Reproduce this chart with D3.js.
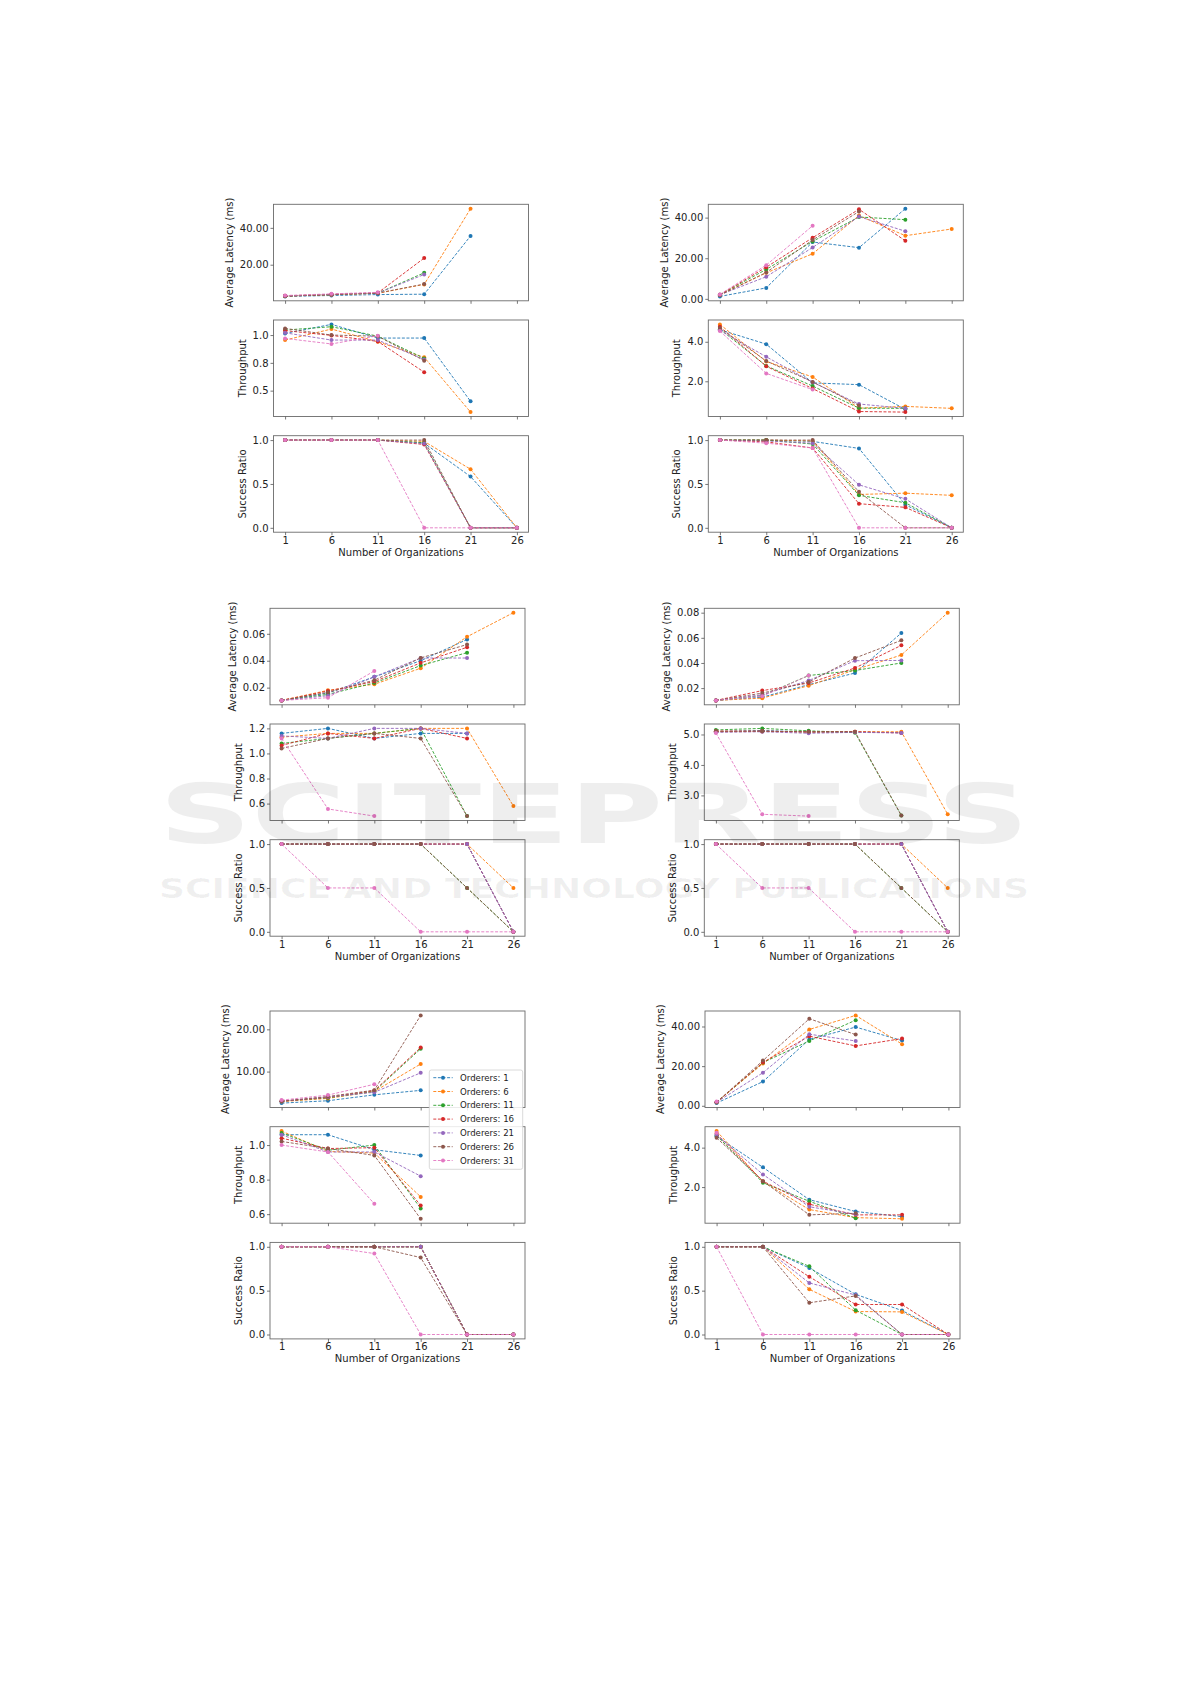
<!DOCTYPE html>
<html><head><meta charset="utf-8">
<script src="https://cdn.jsdelivr.net/npm/d3@7"></script>
<style>body{margin:0;background:#fff} text{font-family:"DejaVu Sans",sans-serif}</style>
</head><body><svg id="c" width="1191" height="1684"></svg>
<script>
// ---------- data ----------
const organizations = [1, 6, 11, 16, 21, 26];
const orderers = [1, 6, 11, 16, 21, 26, 31];
const seriesNames = orderers.map(o => "Orderers: " + o);
const xTickValues = [1, 6, 11, 16, 21, 26];

// Top-left
const tlLatency = [
  [2.8, 3.3, 3.8, 4.0, 35.6, null],
  [3.0, 3.7, 4.5, 9.3, 50.4, null],
  [3.0, 3.8, 4.6, 15.6, null, null],
  [3.1, 3.9, 4.7, 23.6, null, null],
  [3.0, 3.9, 4.6, 14.7, null, null],
  [2.9, 3.8, 4.6, 9.5, null, null],
  [3.3, 4.2, 5.0, null, null, null]];
const tlThroughput = [
  [1.015, 1.096, 0.973, 0.973, 0.404, null],
  [0.955, 1.054, 0.94, 0.80, 0.307, null],
  [1.045, 1.075, 0.99, 0.79, null, null],
  [1.04, 0.997, 0.943, 0.666, null, null],
  [1.02, 0.955, 0.955, 0.78, null, null],
  [1.06, 1.0, 0.99, 0.77, null, null],
  [0.97, 0.92, 0.994, null, null, null]];
const tlSuccess = [
  [1, 1, 1, 0.965, 0.584, 0],
  [1, 1, 1, 0.985, 0.668, 0],
  [1, 1, 1, 0.97, 0, 0],
  [1, 1, 1, 0.95, 0, 0],
  [1, 1, 1, 0.96, 0, 0],
  [1, 1, 1, 1.0, 0, 0],
  [1, 1, 1, 0, 0, 0]];
const tlLatencyTicks = [20, 40];
const tlThroughputTicks = [0.5, 0.75, 1.0];

// Top-right
const trLatency = [
  [1.2, 5.4, 28.0, 25.2, 44.4, null],
  [2.0, 12.8, 22.2, 41.0, 31.1, 34.4],
  [2.0, 14.5, 28.3, 40.3, 39.0, null],
  [2.0, 15.6, 30.1, 44.1, 28.6, null],
  [2.0, 10.9, 25.3, 40.5, 33.3, null],
  [1.8, 13.0, 29.0, 43.0, null, null],
  [2.2, 16.6, 36.0, null, null, null]];
const trThroughput = [
  [4.61, 3.88, 1.92, 1.83, 0.58, null],
  [4.88, 3.0, 2.22, 0.64, 0.73, 0.63],
  [4.64, 2.78, 1.76, 0.64, 0.63, null],
  [4.76, 2.76, 1.63, 0.47, 0.44, null],
  [4.58, 3.24, 1.95, 0.85, 0.63, null],
  [4.7, 3.03, 1.97, 0.78, null, null],
  [4.54, 2.4, 1.58, null, null, null]];
const trSuccess = [
  [1, 1, 0.985, 0.905, 0.263, 0],
  [1, 1, 0.99, 0.38, 0.395, 0.37],
  [1, 1, 0.955, 0.37, 0.286, 0],
  [1, 0.98, 0.91, 0.275, 0.233, 0],
  [1, 0.99, 0.965, 0.49, 0.33, 0],
  [1, 1, 1, 0.41, 0, 0],
  [1, 0.965, 0.91, 0, 0, 0]];
const trLatencyTicks = [0, 20, 40];
const trThroughputTicks = [2, 4];

// Middle-left
const mlLatency = [
  [0.0105, 0.016, 0.028, 0.040, 0.0558, null],
  [0.0105, 0.018, 0.0225, 0.0344, 0.0578, 0.0757],
  [0.0105, 0.015, 0.0235, 0.0364, 0.046, null],
  [0.0105, 0.0175, 0.0245, 0.0384, 0.050, null],
  [0.0105, 0.014, 0.028, 0.042, 0.042, null],
  [0.0105, 0.0165, 0.0255, 0.0421, 0.052, null],
  [0.0105, 0.0125, 0.0324, null, null, null]];
const mlThroughput = [
  [1.16, 1.2, 1.12, 1.16, 1.16, null],
  [1.13, 1.16, 1.16, 1.2, 1.2, 0.58],
  [1.08, 1.12, 1.16, 1.2, 0.5, null],
  [1.064, 1.16, 1.12, 1.2, 1.12, null],
  [1.14, 1.12, 1.2, 1.2, 1.16, null],
  [1.04, 1.12, 1.16, 1.12, 0.5, null],
  [1.12, 0.557, 0.5, null, null, null]];
const mlSuccess = [
  [1, 1, 1, 1, 1, 0],
  [1, 1, 1, 1, 1, 0.5],
  [1, 1, 1, 1, 0.5, 0],
  [1, 1, 1, 1, 1, 0],
  [1, 1, 1, 1, 1, 0],
  [1, 1, 1, 1, 0.5, 0],
  [1, 0.5, 0.5, 0, 0, 0]];
const mlLatencyTicks = [0.02, 0.04, 0.06];
const mlThroughputTicks = [0.6, 0.8, 1.0, 1.2];

// Middle-right
const mrLatency = [
  [0.0102, 0.0128, 0.0227, 0.032, 0.0638, null],
  [0.0102, 0.012, 0.0219, 0.0346, 0.0463, 0.08],
  [0.0102, 0.014, 0.030, 0.034, 0.040, null],
  [0.0102, 0.018, 0.024, 0.036, 0.054, null],
  [0.0102, 0.0147, 0.026, 0.0418, 0.042, null],
  [0.0102, 0.016, 0.0248, 0.0439, 0.058, null],
  [0.0102, 0.0136, 0.030, null, null, null]];
const mrThroughput = [
  [5.09, 5.13, 5.08, 5.08, 5.06, null],
  [5.09, 5.1, 5.08, 5.09, 5.09, 2.38],
  [5.15, 5.2, 5.12, 5.06, 2.34, null],
  [5.11, 5.11, 5.08, 5.09, 5.05, null],
  [5.07, 5.09, 5.04, 5.07, 5.05, null],
  [5.11, 5.11, 5.09, 5.09, 2.34, null],
  [5.05, 2.38, 2.32, null, null, null]];
const mrSuccess = [
  [1, 1, 1, 1, 1, 0],
  [1, 1, 1, 1, 1, 0.5],
  [1, 1, 1, 1, 0.5, 0],
  [1, 1, 1, 1, 1, 0],
  [1, 1, 1, 1, 1, 0],
  [1, 1, 1, 1, 0.5, 0],
  [1, 0.5, 0.5, 0, 0, 0]];
const mrLatencyTicks = [0.02, 0.04, 0.06, 0.08];
const mrThroughputTicks = [3, 4, 5];

// Bottom-left
const blLatency = [
  [2.54, 3.1, 4.5, 5.56, null, null],
  [2.9, 3.65, 5.3, 11.8, null, null],
  [3.0, 3.8, 5.3, 15.4, null, null],
  [3.0, 3.9, 5.5, 15.7, null, null],
  [3.0, 4.0, 5.1, 9.7, null, null],
  [3.0, 4.1, 5.6, 23.3, null, null],
  [3.25, 4.44, 7.0, null, null, null]];
const blThroughput = [
  [1.06, 1.06, 0.973, 0.94, null, null],
  [1.081, 0.963, 0.954, 0.70, null, null],
  [1.07, 0.97, 1.0, 0.633, null, null],
  [1.04, 0.98, 0.985, 0.65, null, null],
  [1.06, 0.96, 0.96, 0.82, null, null],
  [1.021, 0.98, 0.94, 0.573, null, null],
  [1.0, 0.96, 0.66, null, null, null]];
const blSuccess = [
  [1, 1, 1, 1, 0, 0],
  [1, 1, 1, 1, 0, 0],
  [1, 1, 1, 1, 0, 0],
  [1, 1, 1, 1, 0, 0],
  [1, 1, 1, 1, 0, 0],
  [1, 1, 1, 0.877, 0, 0],
  [1, 1, 0.923, 0, 0, 0]];
const blLatencyTicks = [10, 20];
const blThroughputTicks = [0.6, 0.8, 1.0];

// Bottom-right
const brLatency = [
  [1.35, 12.2, 33.5, 39.7, 32.9, null],
  [1.8, 21.3, 38.5, 45.6, 31.1, null],
  [1.8, 21.8, 32.7, 43.2, null, null],
  [1.8, 21.9, 35.1, 30.2, 33.9, null],
  [1.8, 16.7, 36.1, 32.7, null, null],
  [1.8, 22.8, 43.9, 35.9, null, null],
  [2.2, null, null, null, null, null]];
const brThroughput = [
  [4.58, 3.0, 1.36, 0.76, 0.5, null],
  [4.84, 2.27, 0.86, 0.45, 0.39, null],
  [4.62, 2.22, 1.28, 0.42, null, null],
  [4.7, 2.3, 1.13, 0.59, 0.59, null],
  [4.65, 2.64, 1.0, 0.62, null, null],
  [4.5, 2.3, 0.59, 0.67, null, null],
  [4.76, null, null, null, null, null]];
const brSuccess = [
  [1, 1, 0.758, 0.458, 0.273, 0],
  [1, 1, 0.515, 0.262, 0.258, 0],
  [1, 1, 0.777, 0.277, 0, 0],
  [1, 1, 0.658, 0.342, 0.342, 0],
  [1, 1, 0.588, 0.45, 0, 0],
  [1, 1, 0.362, 0.44, 0, 0],
  [1, 0, 0, 0, 0, 0]];
const brLatencyTicks = [0, 20, 40];
const brThroughputTicks = [2, 4];

const successTicks = [0, 0.5, 1.0];

// ---------- drawing ----------
const svg = d3.select('#c');
const colors = ['#1f77b4', '#ff7f0e', '#2ca02c', '#d62728', '#9467bd', '#8c564b', '#e377c2'];
const W = 255, H = 96.5, STEP = 115.7;
const FONT = 10;

const groups = [
  {left: 273.5, top: 204.3, lat: tlLatency, thr: tlThroughput, suc: tlSuccess, latT: tlLatencyTicks, thrT: tlThroughputTicks},
  {left: 708.3, top: 204.3, lat: trLatency, thr: trThroughput, suc: trSuccess, latT: trLatencyTicks, thrT: trThroughputTicks},
  {left: 270, top: 608.3, lat: mlLatency, thr: mlThroughput, suc: mlSuccess, latT: mlLatencyTicks, thrT: mlThroughputTicks},
  {left: 704.3, top: 608.3, lat: mrLatency, thr: mrThroughput, suc: mrSuccess, latT: mrLatencyTicks, thrT: mrThroughputTicks},
  {left: 270, top: 1011, lat: blLatency, thr: blThroughput, suc: blSuccess, latT: blLatencyTicks, thrT: blThroughputTicks, legend: true},
  {left: 705, top: 1011, lat: brLatency, thr: brThroughput, suc: brSuccess, latT: brLatencyTicks, thrT: brThroughputTicks}
];

function drawPanel(left, top, series, ticks, fmt, label, showX) {
  const g = svg.append('g');
  const x = d3.scaleLinear().domain([1 - 1.25, 26 + 1.25]).range([left, left + W]);
  const vals = series.flat().filter(v => v != null);
  const lo = d3.min(vals), hi = d3.max(vals), pad = (hi - lo) * 0.05;
  const y = d3.scaleLinear().domain([lo - pad, hi + pad]).range([top + H, top]);

  g.append('rect').attr('x', left).attr('y', top).attr('width', W).attr('height', H)
    .attr('fill', '#fff');

  series.forEach((s, i) => {
    const pts = s.map((v, j) => ({x: organizations[j], v})).filter(d => d.v != null);
    const line = d3.line().x(d => x(d.x)).y(d => y(d.v));
    g.append('path').attr('d', line(pts)).attr('fill', 'none')
      .attr('stroke', colors[i]).attr('stroke-width', 0.9).attr('stroke-dasharray', '3,1.6');
    g.selectAll(null).data(pts).enter().append('circle')
      .attr('cx', d => x(d.x)).attr('cy', d => y(d.v)).attr('r', 2)
      .attr('fill', colors[i]);
  });

  g.append('rect').attr('x', left).attr('y', top).attr('width', W).attr('height', H)
    .attr('fill', 'none').attr('stroke', '#6b6b6b').attr('stroke-width', 0.9);

  const ya = g.append('g').attr('transform', `translate(${left},0)`)
    .call(d3.axisLeft(y).tickValues(ticks).tickFormat(d3.format(fmt)).tickSize(3).tickPadding(2));
  const xa = g.append('g').attr('transform', `translate(0,${top + H})`)
    .call(d3.axisBottom(x).tickValues(xTickValues).tickFormat(showX ? d3.format('d') : () => '').tickSize(3).tickPadding(1.5));
  [ya, xa].forEach(a => {
    a.select('.domain').remove();
    a.selectAll('line').attr('stroke', '#555').attr('stroke-width', 0.8);
    a.selectAll('text').attr('font-size', FONT).attr('fill', '#222')
      .attr('font-family', '"DejaVu Sans", sans-serif');
  });

  let minX = left;
  ya.selectAll('text').each(function () {
    const b = this.getBBox();
    minX = Math.min(minX, left + b.x);
  });
  g.append('text').attr('transform', `translate(${minX - 7},${top + H / 2}) rotate(-90)`)
    .attr('text-anchor', 'middle').attr('font-size', FONT).attr('fill', '#222').text(label);

  if (showX) {
    g.append('text').attr('x', left + W / 2).attr('y', top + H + 23.5)
      .attr('text-anchor', 'middle').attr('font-size', FONT).attr('fill', '#222')
      .text('Number of Organizations');
  }
}

groups.forEach(gr => {
  drawPanel(gr.left, gr.top, gr.lat, gr.latT, '.2f', 'Average Latency (ms)', false);
  drawPanel(gr.left, gr.top + STEP, gr.thr, gr.thrT, '.1f', 'Throughput', false);
  drawPanel(gr.left, gr.top + 2 * STEP, gr.suc, successTicks, '.1f', 'Success Ratio', true);
});

// legend (bottom-left group)
const lg = svg.append('g');
const LX = 429.3, LY = 1070, LW = 93.4, LH = 99.3;
lg.append('rect').attr('x', LX).attr('y', LY).attr('width', LW).attr('height', LH)
  .attr('rx', 2).attr('fill', '#fff').attr('fill-opacity', 0.85)
  .attr('stroke', '#d0d0d0').attr('stroke-width', 0.8);
seriesNames.forEach((name, i) => {
  const yy = LY + 7.7 + i * 13.8;
  lg.append('line').attr('x1', LX + 4).attr('x2', LX + 23.4).attr('y1', yy).attr('y2', yy)
    .attr('stroke', colors[i]).attr('stroke-width', 0.9).attr('stroke-dasharray', '3,1.6');
  lg.append('circle').attr('cx', LX + 13.7).attr('cy', yy).attr('r', 2).attr('fill', colors[i]);
  lg.append('text').attr('x', LX + 30.7).attr('y', yy).attr('dy', '0.35em')
    .attr('font-size', 8.6).attr('fill', '#222').text(name);
});

// watermark
const wm = svg.append('g').attr('pointer-events', 'none');
wm.append('text').attr('x', 159).attr('y', 843).attr('textLength', 870)
  .attr('lengthAdjust', 'spacingAndGlyphs').attr('font-size', 82).attr('font-weight', 'bold')
  .attr('fill', '#000').attr('fill-opacity', 0.065).text('SCITEPRESS');
wm.append('text').attr('x', 159).attr('y', 898).attr('textLength', 870)
  .attr('lengthAdjust', 'spacingAndGlyphs').attr('font-size', 27).attr('font-weight', 'bold')
  .attr('fill', '#000').attr('fill-opacity', 0.06).text('SCIENCE AND TECHNOLOGY PUBLICATIONS');
</script></body></html>
